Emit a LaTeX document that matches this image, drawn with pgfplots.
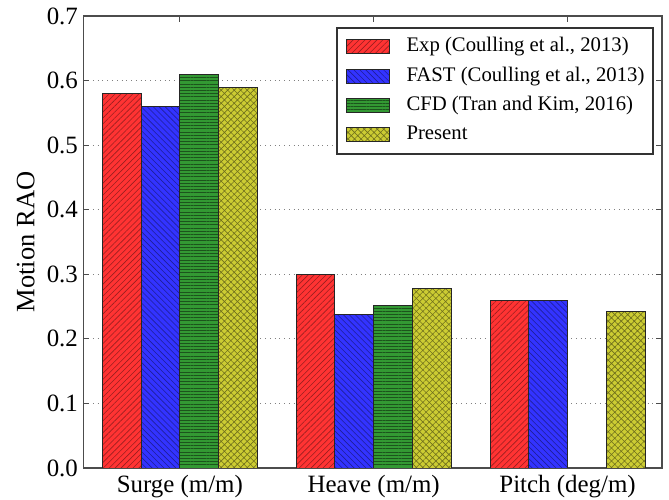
\documentclass[border=0pt]{standalone}
\usepackage{fontspec}
\setmainfont{Liberation Serif}
\usepackage{pgfplots}
\pgfplotsset{compat=1.18}
\usetikzlibrary{patterns.meta}
\definecolor{cred}{RGB}{255,51,51}
\definecolor{cblue}{RGB}{51,51,255}
\definecolor{cgreen}{RGB}{51,153,51}
\definecolor{cyellow}{RGB}{204,204,51}
\begin{document}
\begin{tikzpicture}
\begin{axis}[
  scale only axis, width=289.35bp, height=226bp,
  xmin=-0.498, xmax=2.487, ymin=0, ymax=0.7,
  ybar, bar width=0.2,
  xtick={0,1,2}, xticklabels={Surge (m/m), Heave (m/m), Pitch (deg/m)},
  ytick={0,0.1,0.2,0.3,0.4,0.5,0.6,0.7},
  yticklabel style={inner xsep=2.5bp, /pgf/number format/.cd, fixed, fixed zerofill, precision=1, assume math mode=true},
  ticklabel style={font=\fontsize{12.5}{14}\selectfont},
  ymajorgrids, grid style={dotted, gray, line width=0.6bp},
  tick align=inside, major tick length=3bp,
  axis line style={black!70, line width=0.8bp},
  tick style={black!70, line width=0.6bp},
  ylabel={Motion RAO},
  ylabel style={font=\fontsize{13.3}{15}\selectfont},
  legend style={at={(rel axis cs:0.9862,0.9757)}, anchor=north east, draw=black!80, line width=0.8bp,
    font=\fontsize{10.4}{12}\selectfont, row sep=5bp, column sep=8.5bp,
    inner xsep=4.4bp, inner ysep=4.8bp,
    nodes={inner sep=0pt, text height=7.3bp, text depth=2.3bp}},
  legend cell align=left,
  legend image code/.code={\draw[#1] (0bp,-3.5bp) rectangle (21.5bp,3.5bp);},
]
\addplot[fill=cred, draw=black!85, line width=0.5bp, bar shift=-0.3,
  postaction={pattern={Lines[angle=45,distance=2.1bp,line width=0.3bp]}, pattern color=cred!60!black}]
  coordinates {(0,0.58) (1,0.30) (2,0.26)};
\addplot[fill=cblue, draw=black!85, line width=0.5bp, bar shift=-0.1,
  postaction={pattern={Lines[angle=-45,distance=2.1bp,line width=0.3bp]}, pattern color=cblue!60!black}]
  coordinates {(0,0.56) (1,0.238) (2,0.26)};
\addplot[fill=cgreen, draw=black!85, line width=0.5bp, bar shift=0.1,
  postaction={pattern={Lines[angle=0,distance=1.6bp,line width=0.3bp]}, pattern color=cgreen!55!black}]
  coordinates {(0,0.61) (1,0.251)};
\addplot[fill=cyellow, draw=black!85, line width=0.5bp, bar shift=0.3,
  postaction={pattern={Hatch[angle=45,distance=2.3bp,line width=0.3bp]}, pattern color=cyellow!55!black}]
  coordinates {(0,0.59) (1,0.278) (2,0.243)};
\legend{{Exp (Coulling et al., 2013)}, {FAST (Coulling et al., 2013)}, {CFD (Tran and Kim, 2016)}, {Present}}
\coordinate (bl) at (rel axis cs:0,0);
\coordinate (tr) at (rel axis cs:1,1);
\end{axis}
\pgfresetboundingbox
\useasboundingbox ([shift={(-41.65bp,-16bp)}]bl) rectangle ([shift={(3.5bp,8bp)}]tr);
\end{tikzpicture}
\end{document}
